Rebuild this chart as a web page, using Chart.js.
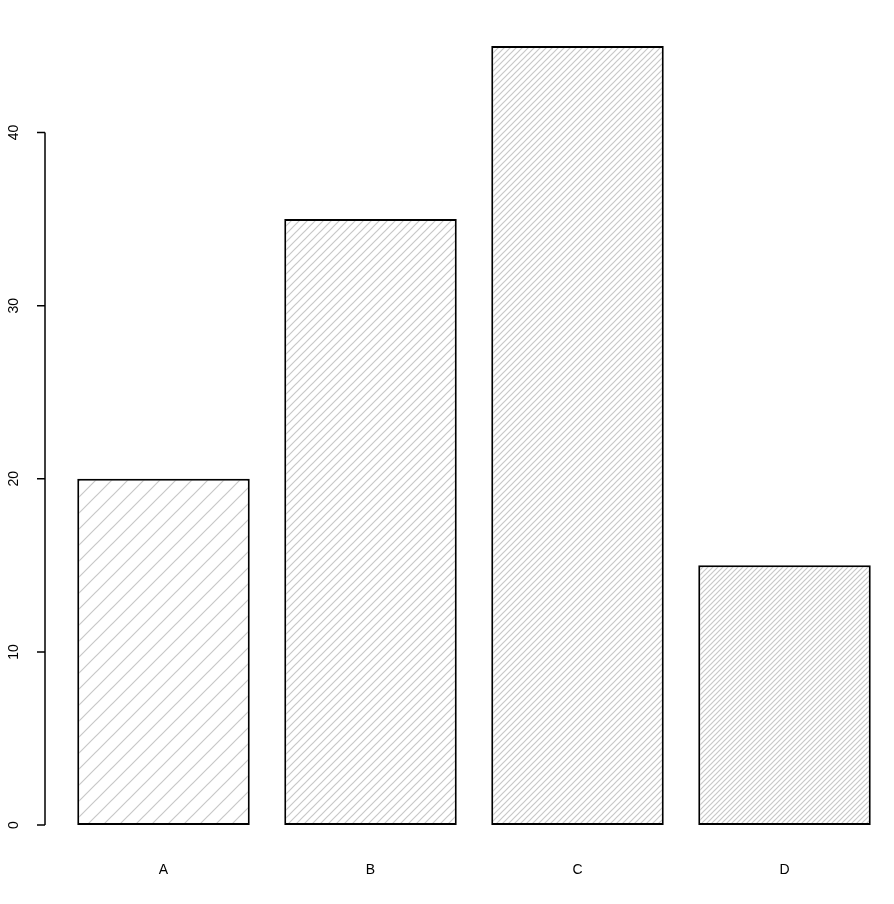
<!DOCTYPE html>
<html>
<head>
<meta charset="utf-8">
<script src="https://cdn.jsdelivr.net/npm/chart.js@4"></script>
<style>
  html, body { margin: 0; padding: 0; background: #fff; }
  #wrap { width: 894px; height: 904px; }
</style>
</head>
<body>
<div id="wrap"><canvas id="c" width="894" height="904"></canvas></div>
<script>
const categories = ['A', 'B', 'C', 'D'];
const values = [20, 35, 45, 15];
const yTicks = [0, 10, 20, 30, 40];

// hatch spacing per bar (pixels between lines, horizontally)
const hatchSpacing = [16, 8, 6, 5];

function hatch(step) {
    const c = document.createElement('canvas');
    c.width = step; c.height = step;
    const g = c.getContext('2d');
    g.fillStyle = '#fff';
    g.fillRect(0, 0, step, step);
    g.strokeStyle = '#c8c8c8';
    g.lineWidth = 1.2;
    g.beginPath();
    g.moveTo(-1, step + 1); g.lineTo(step + 1, -1);
    g.moveTo(-1, 1); g.lineTo(1, -1);
    g.moveTo(step - 1, step + 1); g.lineTo(step + 1, step - 1);
    g.stroke();
    return g.createPattern(c, 'repeat');
}

const font = '14px "Liberation Sans", Arial, sans-serif';

const rAxes = {
    id: 'rAxes',
    afterDraw(chart) {
        const ctx = chart.ctx;
        const y = chart.scales.y, x = chart.scales.x;
        ctx.save();
        ctx.strokeStyle = '#000';
        ctx.lineWidth = 1.5;
        ctx.beginPath();
        ctx.moveTo(45, y.getPixelForValue(yTicks[0]));
        ctx.lineTo(45, y.getPixelForValue(yTicks[yTicks.length - 1]));
        yTicks.forEach(t => {
            const py = y.getPixelForValue(t);
            ctx.moveTo(45, py); ctx.lineTo(37, py);
        });
        ctx.stroke();
        ctx.fillStyle = '#000';
        ctx.font = font;
        ctx.textAlign = 'center';
        ctx.textBaseline = 'middle';
        yTicks.forEach(t => {
            const py = y.getPixelForValue(t);
            ctx.save();
            ctx.translate(14, py);
            ctx.rotate(-Math.PI / 2);
            ctx.fillText(String(t), 0, 0);
            ctx.restore();
        });
        categories.forEach((cat, i) => {
            ctx.fillText(cat, x.getPixelForValue(i), 870);
        });
        ctx.restore();
    }
};

new Chart(document.getElementById('c'), {
    type: 'bar',
    data: {
        labels: categories,
        datasets: [{
            data: values,
            backgroundColor: hatchSpacing.map(hatch),
            borderColor: '#000',
            borderWidth: 2,
            borderSkipped: false,
            barPercentage: 1 / 1.2,
            categoryPercentage: 1
        }]
    },
    options: {
        responsive: false,
        animation: false,
        devicePixelRatio: 1,
        layout: { padding: { top: 46, bottom: 79, left: 60, right: 6 } },
        plugins: { legend: { display: false }, tooltip: { enabled: false } },
        scales: {
            x: { display: false },
            y: { display: false, min: 0, max: 45 }
        }
    },
    plugins: [rAxes]
});
</script>
</body>
</html>
